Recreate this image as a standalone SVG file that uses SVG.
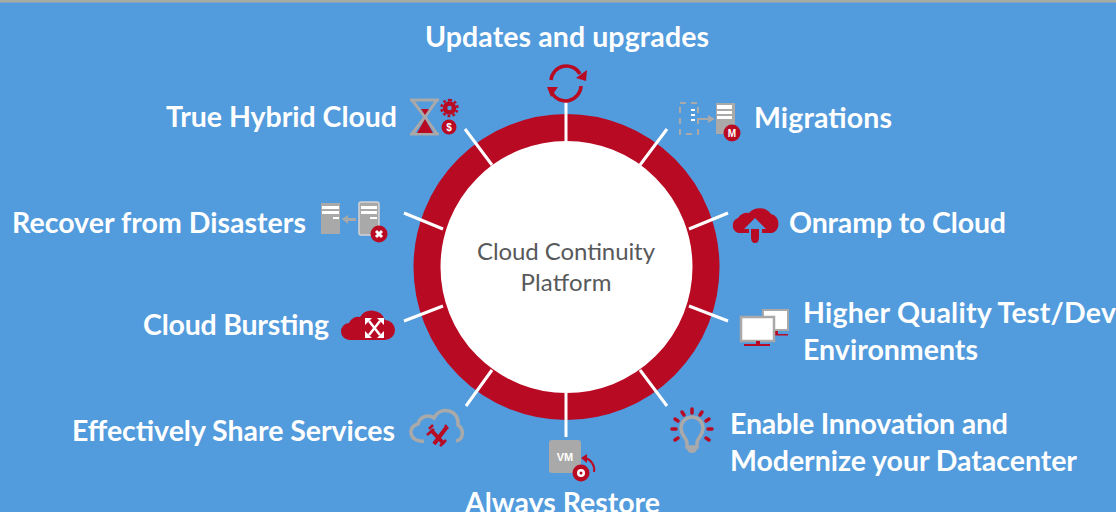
<svg xmlns="http://www.w3.org/2000/svg" width="1116" height="512" viewBox="0 0 1116 512">
<defs>
<style>
.l{font-family:Lato,"Open Sans","Liberation Sans",sans-serif;font-weight:700;font-size:28.500px;fill:#fff}
.c{font-family:Lato,"Open Sans","Liberation Sans",sans-serif;font-size:24px;fill:#58595b;text-anchor:middle}
.s{stroke:#fff;stroke-width:3;fill:none}
.r{fill:#b90a24}
.g{fill:#a9a9a9}
.gs{fill:none;stroke:#a9a9a9}
.rs{fill:none;stroke:#b90a24}
</style>
</defs>
<rect width="1116" height="512" fill="#529bdc"/>
<rect width="1116" height="2.500" fill="#a8ab9f"/>
<g id="platform">
<circle cx="566.500" cy="267" r="139.500" fill="#fff" stroke="#b90a24" stroke-width="27"/>
<text class="c" x="566" y="260" textLength="178">Cloud Continuity</text>
<text class="c" x="566" y="291" textLength="91">Platform</text>
</g>
<g id="connectors">
<path class="s" d="M566 102V142M640 165L667 129M689 229L728 213M689 306L728 321M640 370L667 406M566 393V437M492 370L466 406M443 306L404 321M443 229L404 213M492 165L465 129"/>
</g>
<g id="updates">
<text class="l" x="425" y="47" textLength="284">Updates and upgrades</text>
<path class="rs" stroke-width="3.500" d="M551 80A15.500 15.500 0 0 1 580 74M581 86A15.500 15.500 0 0 1 552 93"/>
<path class="r" d="M587 70L586 81L576 78zM547 87L558 87L551 97z"/>
</g>
<g id="migrations">
<text class="l" x="754" y="128" textLength="138">Migrations</text>
<path class="gs" stroke-width="2" stroke-dasharray="6 5" d="M680 103H698V134H680z"/>
<path class="g" d="M697 118H708V115L715 119L708 123V120H697z"/>
<path fill="#fff" d="M691 109h4v2h-4zM691 114h4v2h-4zM691 119h4v2h-4z"/>
<rect class="g" x="716" y="103" width="19" height="31"/>
<path fill="#fff" d="M717 105h15v4h-15zM717 111h15v3h-15zM717 116h15v3h-15z"/>
<circle class="r" cx="732" cy="133" r="8.500"/>
<text x="732" y="137" font-family="'Liberation Sans',sans-serif" font-weight="700" font-size="10" fill="#fff" text-anchor="middle">M</text>
</g>
<g id="onramp">
<text class="l" x="789" y="233" textLength="217">Onramp to Cloud</text>
<path class="r" d="M738 233A8 8 0 0 1 738 218A10 10 0 0 1 749 213A14 14 0 0 1 771 214A10 10 0 0 1 772 233L762 233L762 229L766 229L755 218L744 229L749 229V233z"/>
<path class="r" d="M751 229H759V237Q759 243 755 243Q751 243 751 237z"/>
</g>
<g id="testdev">
<text class="l" x="803" y="323" textLength="313">Higher Quality Test/Dev</text>
<text class="l" x="803" y="360" textLength="175">Environments</text>
<rect x="763" y="310" width="25" height="20" fill="#fff" stroke="#a9a9a9" stroke-width="2"/>
<path class="r" d="M775 331h3v3h10v1.500h-14v-1.500h1z"/>
<rect x="741" y="317" width="33" height="24" fill="#fff" stroke="#a9a9a9" stroke-width="2.500"/>
<path class="r" d="M756 341h4v3h10v2h-26v-2h12z"/>
</g>
<g id="innovation">
<text class="l" x="730" y="434" textLength="278">Enable Innovation and</text>
<text class="l" x="730" y="471" textLength="347">Modernize your Datacenter</text>
<path class="gs" stroke-width="3.500" d="M687 447V443C687 438 681 436 681 428A10.500 10.500 0 0 1 703 428C703 436 697 438 697 443V447z"/>
<path class="g" d="M687 446h10v3a5 4 0 0 1-10 0z"/>
<path class="rs" stroke-width="3.500" stroke-linecap="round" d="M692 409V413M682 412L684 415M702 412L700 415M675 419L678 421M709 419L706 421M672 429H676M712 429H708M675 440L678 438M709 440L706 438"/>
</g>
<g id="restore">
<text class="l" x="465" y="513" textLength="195">Always Restore</text>
<rect class="g" x="549" y="440" width="32" height="33" rx="3"/>
<text x="565" y="461" font-family="'Liberation Sans',sans-serif" font-weight="700" font-size="11" fill="#fff" text-anchor="middle">VM</text>
<circle class="r" cx="581" cy="473" r="8.500"/>
<circle cx="581" cy="473" r="4" fill="#fff"/>
<circle class="r" cx="581" cy="473" r="1.500"/>
<path class="rs" stroke-width="2" d="M585 458A12 12 0 0 1 594 472"/>
<path class="r" d="M587 454L587 463L581 458z"/>
</g>
<g id="share">
<text class="l" x="72" y="441" textLength="323">Effectively Share Services</text>
<path class="gs" stroke-width="3.500" d="M424 441C410 443 406 427 418 424C420 416 429 414 434 418C440 405 460 410 458 425C465 430 463 440 456 441"/>
<path class="rs" stroke-width="4" d="M431 430L444 444M446 428L434 444"/>
<path class="rs" stroke-width="2.500" d="M427 435L434 429M429 429L433 425M440 446L446 440M445 425L448 429"/>
</g>
<g id="bursting">
<text class="l" x="143" y="335" textLength="186">Cloud Bursting</text>
<path class="r" d="M350 340A8.500 8.500 0 0 1 349 323A10 10 0 0 1 360 317A14 14 0 0 1 385 320A10 10 0 0 1 385 340z"/>
<path fill="none" stroke="#fff" stroke-width="2.500" d="M369 321L380 335M380 321L369 335"/>
<path fill="#fff" d="M365 318h7l-7 7zM384 318v7l-7-7zM365 338v-7l7 7zM384 338h-7l7-7z"/>
</g>
<g id="disasters">
<text class="l" x="12" y="233" textLength="294">Recover from Disasters</text>
<rect class="g" x="321" y="203" width="19" height="31"/>
<path fill="#fff" d="M322 206h17v3h-17zM322 211h17v3h-17zM333 217h6v2h-6z"/>
<path class="g" d="M342 219L348 215V218H356V221H348V224z"/>
<rect x="359" y="202" width="20" height="33" rx="2" class="g" stroke="#d4d4d4" stroke-width="1.500"/>
<path fill="#fff" d="M361 206h16v3h-16zM361 211h16v3h-16zM370 217h7v2h-7z"/>
<circle class="r" cx="379" cy="234" r="8.500"/>
<path stroke="#fff" stroke-width="3" d="M376 231L382 237M382 231L376 237"/>
</g>
<g id="hybrid">
<text class="l" x="166" y="127" textLength="231">True Hybrid Cloud</text>
<path class="gs" stroke-width="3" d="M410 100H439M410 134H439M412 100L425 117L412 134M437 100L425 117L437 134"/>
<path class="r" d="M421 109H429L425 115zM425 119L433 133H417z"/>
<circle class="rs" stroke-width="4.500" cx="449.500" cy="108" r="4.500"/>
<path class="rs" stroke-width="2.500" stroke-dasharray="2.600 2.200" d="M449.500 100A8 8 0 1 1 449.400 100"/>
<circle class="r" cx="449" cy="127" r="7.500"/>
<text x="449" y="131" font-family="'Liberation Sans',sans-serif" font-weight="700" font-size="10" fill="#fff" text-anchor="middle">$</text>
</g>
</svg>
